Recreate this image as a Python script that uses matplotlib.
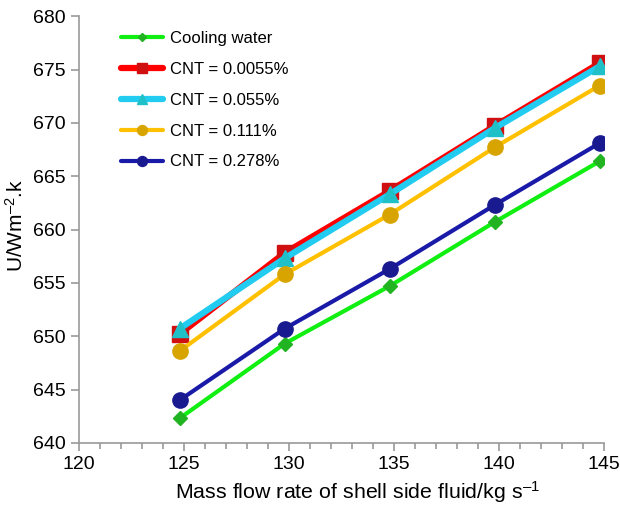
import matplotlib
matplotlib.use("Agg")
import matplotlib.pyplot as plt
from matplotlib.ticker import MultipleLocator

plt.rcParams['font.family'] = ['Liberation Sans', 'DejaVu Sans']
plt.rcParams['mathtext.fontset'] = 'custom'
plt.rcParams['mathtext.rm'] = 'Liberation Sans'
plt.rcParams['mathtext.it'] = 'Liberation Sans'

# mass flow rate (kg/s)
flow = [124.8, 129.8, 134.8, 139.8, 144.8]

cooling_water = [642.3, 649.3, 654.7, 660.7, 666.4]
cnt_00055 = [650.2, 657.8, 663.6, 669.7, 675.6]
cnt_0055 = [650.7, 657.3, 663.3, 669.5, 675.3]
cnt_0111 = [648.6, 655.8, 661.4, 667.7, 673.5]
cnt_0278 = [644.0, 650.7, 656.3, 662.3, 668.1]

series = [
    ("Cooling water", cooling_water, "#11ee11", "D", "#22b322", 3, 7),
    ("CNT = 0.0055%", cnt_00055, "#ff0000", "s", "#d01010", 4.5, 11),
    ("CNT = 0.055%", cnt_0055, "#22ccf0", "^", "#20c0c8", 4.5, 11),
    ("CNT = 0.111%", cnt_0111, "#ffc000", "o", "#d8a400", 3, 11),
    ("CNT = 0.278%", cnt_0278, "#1a1aa8", "o", "#1a1a90", 3, 11),
]

fig = plt.figure(figsize=(6.2, 5.05), dpi=100)
ax = fig.add_axes([0.127, 0.123, 0.847, 0.845])

for label, vals, col, mk, mcol, lw, ms in series:
    ax.plot(flow, vals, color=col, lw=lw, marker=mk, markersize=ms,
            markerfacecolor=mcol, markeredgecolor=mcol, label=label,
            solid_capstyle="round")

ax.set_xlim(120, 145)
ax.set_ylim(640, 680)
ax.xaxis.set_major_locator(MultipleLocator(5))
ax.xaxis.set_minor_locator(MultipleLocator(1))
ax.yaxis.set_major_locator(MultipleLocator(5))

for s in ["top", "right"]:
    ax.spines[s].set_visible(False)
for s in ["left", "bottom"]:
    ax.spines[s].set_color("#999999")
    ax.spines[s].set_linewidth(1.2)
ax.tick_params(axis="both", which="both", color="#999999", labelsize=14, width=1.2)
ax.tick_params(axis="both", which="major", length=6)
ax.tick_params(axis="x", which="minor", length=4)

ax.set_xlabel("Mass flow rate of shell side fluid/kg s$^{\u2013 1}$", fontsize=15.4)
ax.xaxis.set_label_coords(0.53, -0.085)
ax.set_ylabel("U/Wm$^{\u2013 2}$.k", fontsize=15)
ax.yaxis.set_label_coords(-0.098, 0.51)

ax.legend(loc="upper left", bbox_to_anchor=(0.052, 1.0), frameon=False,
          fontsize=12, handlelength=2.5, handletextpad=0.45,
          labelspacing=0.95, markerscale=0.65)

fig.savefig("out.png", dpi=100)
